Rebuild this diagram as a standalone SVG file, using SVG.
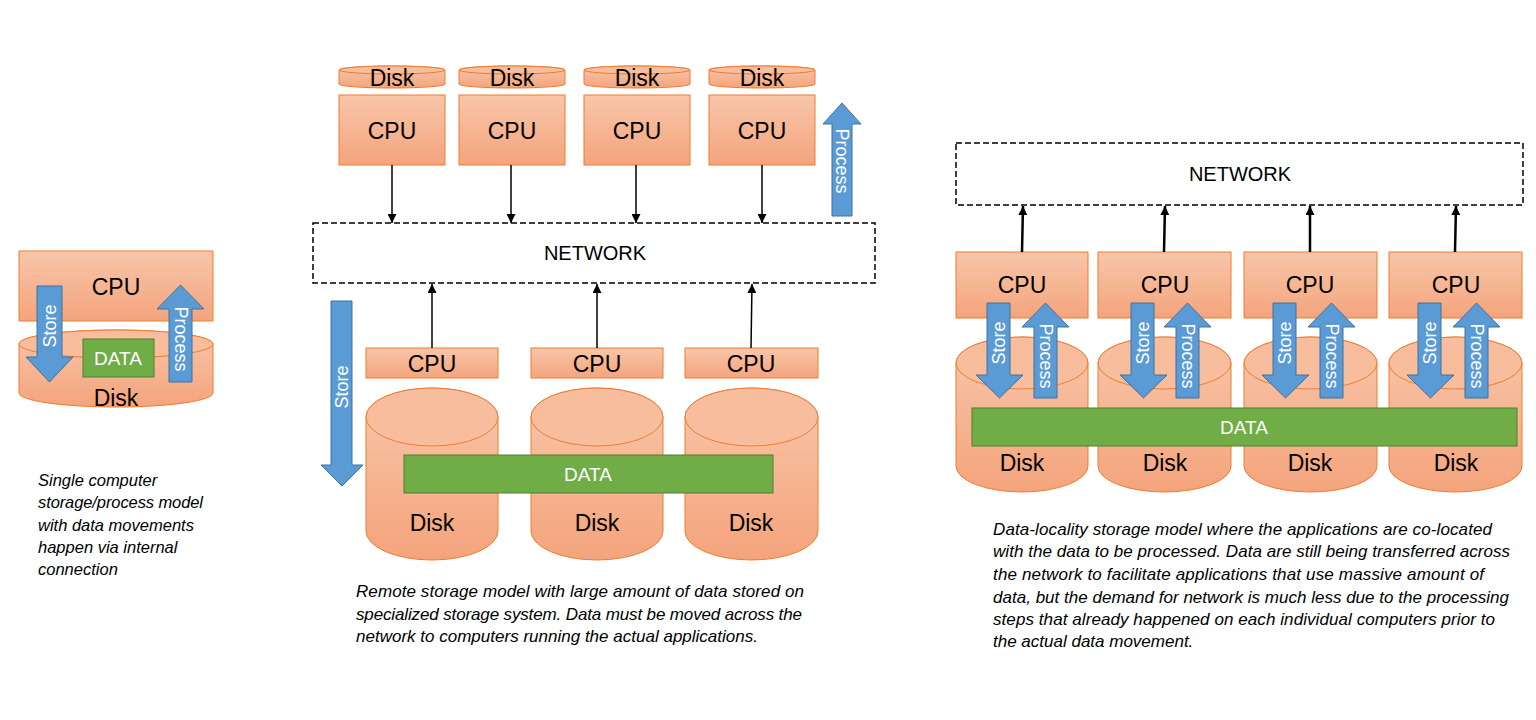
<svg xmlns="http://www.w3.org/2000/svg" width="1536" height="720" viewBox="0 0 1536 720">
<defs>
  <linearGradient id="og" x1="0" y1="0" x2="0" y2="1">
    <stop offset="0" stop-color="#F8C6AA"/>
    <stop offset="1" stop-color="#F4A47C"/>
  </linearGradient>
  <marker id="ah" markerUnits="userSpaceOnUse" markerWidth="9" markerHeight="9" refX="9" refY="4.5" orient="auto">
    <path d="M0,0 L9,4.5 L0,9 Z" fill="#000"/>
  </marker>
</defs>
<style>
  .box{fill:url(#og);stroke:#ED7D31;stroke-width:1}
  .cyl{fill:url(#og);stroke:#ED7D31;stroke-width:1}
  .cyltop{fill:#F7BD9D;stroke:#ED7D31;stroke-width:1}
  .blue{fill:#5B9BD5;stroke:#41719C;stroke-width:1}
  .green{fill:#70AD47;stroke:#507E32;stroke-width:1}
  .net{fill:#fff;stroke:#000;stroke-width:1.5;stroke-dasharray:6 3}
  .t{font-family:"Liberation Sans",Arial,sans-serif;fill:#000;text-anchor:middle;dominant-baseline:central}
  .big{font-size:23px}
  .net-t{font-size:20px}
  .data{font-size:19px;fill:#fff}
  .lab{font-size:18px;fill:#fff}
  .cap{font-family:"Liberation Sans",Arial,sans-serif;font-style:italic;font-size:17px;fill:#000}
  .capl{font-size:16.5px}
  .c1{stroke:#000;stroke-width:1.5;fill:none;marker-end:url(#ah)}
  .c2{stroke:#000;stroke-width:2.5;fill:none;marker-end:url(#ah)}
</style>

<!-- LEFT: single computer -->
<g id="left-disk">
  <path class="cyl" d="M19,344 L19,393 A97,14 0 0 0 213,393 L213,344 A97,14 0 0 0 19,344 Z"/>
  <ellipse class="cyltop" cx="116" cy="344" rx="97" ry="14"/>
  <text class="t big" x="116" y="398">Disk</text>
</g>
<g id="left-cpu">
  <rect class="box" x="19" y="251" width="194" height="70"/>
  <text class="t big" x="116" y="287">CPU</text>
</g>
<g id="left-data">
  <rect class="green" x="83" y="339" width="71" height="38"/>
  <text class="t data" x="118" y="358">DATA</text>
</g>
<g id="left-store">
  <polygon class="blue" points="37,286 62,286 62,357 73,357 49.5,382 26,357 37,357"/>
  <text class="t lab" transform="translate(50,326) rotate(-90)">Store</text>
</g>
<g id="left-process">
  <polygon class="blue" points="169,382 192,382 192,309 204,309 180.5,285 157,309 169,309"/>
  <text class="t lab" transform="translate(181,339) rotate(90)">Process</text>
</g>
<text class="cap capl" x="38" y="486">Single computer</text>
<text class="cap capl" x="38" y="508" textLength="165">storage/process model</text>
<text class="cap capl" x="38" y="531">with data movements</text>
<text class="cap capl" x="38" y="553">happen via internal</text>
<text class="cap capl" x="38" y="575">connection</text>

<!-- MIDDLE: remote storage -->
<g id="m-disk1"><path class="cyl" d="M339,70 L339,84 A53,4 0 0 0 445,84 L445,70 A53,4 0 0 0 339,70 Z"/><ellipse class="cyltop" cx="392" cy="70" rx="53" ry="4"/><text class="t big" x="392" y="78">Disk</text></g>
<g id="m-disk2"><path class="cyl" d="M459,70 L459,84 A53,4 0 0 0 565,84 L565,70 A53,4 0 0 0 459,70 Z"/><ellipse class="cyltop" cx="512" cy="70" rx="53" ry="4"/><text class="t big" x="512" y="78">Disk</text></g>
<g id="m-disk3"><path class="cyl" d="M584,70 L584,84 A53,4 0 0 0 690,84 L690,70 A53,4 0 0 0 584,70 Z"/><ellipse class="cyltop" cx="637" cy="70" rx="53" ry="4"/><text class="t big" x="637" y="78">Disk</text></g>
<g id="m-disk4"><path class="cyl" d="M709,70 L709,84 A53,4 0 0 0 815,84 L815,70 A53,4 0 0 0 709,70 Z"/><ellipse class="cyltop" cx="762" cy="70" rx="53" ry="4"/><text class="t big" x="762" y="78">Disk</text></g>

<g id="m-cpu1"><rect class="box" x="339" y="95" width="106" height="70"/><text class="t big" x="392" y="131">CPU</text></g>
<g id="m-cpu2"><rect class="box" x="459" y="95" width="106" height="70"/><text class="t big" x="512" y="131">CPU</text></g>
<g id="m-cpu3"><rect class="box" x="584" y="95" width="106" height="70"/><text class="t big" x="637" y="131">CPU</text></g>
<g id="m-cpu4"><rect class="box" x="709" y="95" width="106" height="70"/><text class="t big" x="762" y="131">CPU</text></g>

<g id="m-process">
  <polygon class="blue" points="832,216 852,216 852,124 861,124 842,103 823,124 832,124"/>
  <text class="t lab" transform="translate(842,161) rotate(90)">Process</text>
</g>

<g id="m-network">
  <rect class="net" x="313" y="223" width="562" height="60"/>
  <text class="t net-t" x="595" y="253">NETWORK</text>
</g>

<g id="m-store">
  <polygon class="blue" points="331,301 352,301 352,465 363,465 342,486 321,465 331,465"/>
  <text class="t lab" transform="translate(342,387) rotate(-90)">Store</text>
</g>

<g id="m-cpu5"><rect class="box" x="366" y="348" width="132" height="30"/><text class="t big" x="432" y="364">CPU</text></g>
<g id="m-cpu6"><rect class="box" x="531" y="348" width="132" height="30"/><text class="t big" x="597" y="364">CPU</text></g>
<g id="m-cpu7"><rect class="box" x="685" y="348" width="133" height="30"/><text class="t big" x="751" y="364">CPU</text></g>

<g id="m-bigdisk1"><path class="cyl" d="M366,417 L366,531 A66,29 0 0 0 498,531 L498,417 A66,29 0 0 0 366,417 Z"/><ellipse class="cyltop" cx="432" cy="417" rx="66" ry="29"/><text class="t big" x="432" y="523">Disk</text></g>
<g id="m-bigdisk2"><path class="cyl" d="M531,417 L531,531 A66,29 0 0 0 663,531 L663,417 A66,29 0 0 0 531,417 Z"/><ellipse class="cyltop" cx="597" cy="417" rx="66" ry="29"/><text class="t big" x="597" y="523">Disk</text></g>
<g id="m-bigdisk3"><path class="cyl" d="M685,417 L685,531 A66.5,29 0 0 0 818,531 L818,417 A66.5,29 0 0 0 685,417 Z"/><ellipse class="cyltop" cx="751.5" cy="417" rx="66.5" ry="29"/><text class="t big" x="751" y="523">Disk</text></g>

<g id="m-data">
  <rect class="green" x="404" y="455" width="369" height="38"/>
  <text class="t data" x="588" y="474">DATA</text>
</g>

<text class="cap" x="356" y="597" textLength="448">Remote storage model with large amount of data stored on</text>
<text class="cap" x="356" y="620" textLength="446">specialized storage system. Data must be moved across the</text>
<text class="cap" x="356" y="642" textLength="402">network to computers running the actual applications.</text>

<!-- RIGHT: data locality -->
<g id="r-network">
  <rect class="net" x="956" y="143" width="567" height="62"/>
  <text class="t net-t" x="1240" y="174">NETWORK</text>
</g>

<g id="r-disk1"><path class="cyl" d="M956,363 L956,466 A66,26 0 0 0 1088,466 L1088,363 A66,26 0 0 0 956,363 Z"/><ellipse class="cyltop" cx="1022" cy="363" rx="66" ry="26"/><text class="t big" x="1022" y="463">Disk</text></g>
<g id="r-disk2"><path class="cyl" d="M1098,363 L1098,466 A66.5,26 0 0 0 1231,466 L1231,363 A66.5,26 0 0 0 1098,363 Z"/><ellipse class="cyltop" cx="1164.5" cy="363" rx="66.5" ry="26"/><text class="t big" x="1165" y="463">Disk</text></g>
<g id="r-disk3"><path class="cyl" d="M1244,363 L1244,466 A66.5,26 0 0 0 1377,466 L1377,363 A66.5,26 0 0 0 1244,363 Z"/><ellipse class="cyltop" cx="1310.5" cy="363" rx="66.5" ry="26"/><text class="t big" x="1310" y="463">Disk</text></g>
<g id="r-disk4"><path class="cyl" d="M1389,363 L1389,466 A66.5,26 0 0 0 1522,466 L1522,363 A66.5,26 0 0 0 1389,363 Z"/><ellipse class="cyltop" cx="1455.5" cy="363" rx="66.5" ry="26"/><text class="t big" x="1456" y="463">Disk</text></g>

<g id="r-cpu1"><rect class="box" x="956" y="252" width="132" height="66"/><text class="t big" x="1022" y="285">CPU</text></g>
<g id="r-cpu2"><rect class="box" x="1098" y="252" width="133" height="66"/><text class="t big" x="1165" y="285">CPU</text></g>
<g id="r-cpu3"><rect class="box" x="1244" y="252" width="133" height="66"/><text class="t big" x="1310" y="285">CPU</text></g>
<g id="r-cpu4"><rect class="box" x="1389" y="252" width="133" height="66"/><text class="t big" x="1456" y="285">CPU</text></g>

<g id="r-arrows1">
  <polygon class="blue" points="987,303 1010,303 1010,375 1023,375 999.5,398 976,375 987,375"/>
  <text class="t lab" transform="translate(999,343) rotate(-90)">Store</text>
  <polygon class="blue" points="1034,398 1057,398 1057,327 1069,327 1045.5,303 1022,327 1034,327"/>
  <text class="t lab" transform="translate(1046,356) rotate(90)">Process</text>
</g>
<g id="r-arrows2">
  <polygon class="blue" points="1131,303 1154,303 1154,375 1167,375 1143.5,398 1120,375 1131,375"/>
  <text class="t lab" transform="translate(1143,343) rotate(-90)">Store</text>
  <polygon class="blue" points="1176,398 1199,398 1199,327 1211,327 1187.5,303 1164,327 1176,327"/>
  <text class="t lab" transform="translate(1188,356) rotate(90)">Process</text>
</g>
<g id="r-arrows3">
  <polygon class="blue" points="1273,303 1296,303 1296,375 1309,375 1285.5,398 1262,375 1273,375"/>
  <text class="t lab" transform="translate(1285,343) rotate(-90)">Store</text>
  <polygon class="blue" points="1320,398 1343,398 1343,327 1355,327 1331.5,303 1308,327 1320,327"/>
  <text class="t lab" transform="translate(1332,356) rotate(90)">Process</text>
</g>
<g id="r-arrows4">
  <polygon class="blue" points="1418,303 1441,303 1441,375 1454,375 1430.5,398 1407,375 1418,375"/>
  <text class="t lab" transform="translate(1430,343) rotate(-90)">Store</text>
  <polygon class="blue" points="1465,398 1488,398 1488,327 1500,327 1476.5,303 1453,327 1465,327"/>
  <text class="t lab" transform="translate(1477,356) rotate(90)">Process</text>
</g>

<g id="r-data">
  <rect class="green" x="972" y="408" width="545" height="38"/>
  <text class="t data" x="1244" y="427">DATA</text>
</g>

<text class="cap" x="993" y="535" textLength="499">Data-locality storage model where the applications are co-located</text>
<text class="cap" x="993" y="557" textLength="517">with the data to be processed. Data are still being transferred across</text>
<text class="cap" x="993" y="580" textLength="491">the network to facilitate applications that use massive amount of</text>
<text class="cap" x="993" y="603" textLength="516">data, but the demand for network is much less due to the processing</text>
<text class="cap" x="993" y="625" textLength="502">steps that already happened on each individual computers prior to</text>
<text class="cap" x="993" y="647">the actual data movement.</text>

<!-- CONNECTORS -->
<g id="connectors">
  <line class="c1" x1="392" y1="165" x2="392" y2="223"/>
  <line class="c1" x1="511" y1="165" x2="511" y2="223"/>
  <line class="c1" x1="636" y1="165" x2="636" y2="223"/>
  <line class="c1" x1="762" y1="165" x2="762" y2="223"/>
  <line class="c1" x1="432" y1="348" x2="432" y2="284"/>
  <line class="c1" x1="597" y1="348" x2="597" y2="284"/>
  <line class="c1" x1="751" y1="348" x2="752" y2="284"/>
  <line class="c2" x1="1022" y1="252" x2="1023" y2="206"/>
  <line class="c2" x1="1164" y1="252" x2="1165" y2="206"/>
  <line class="c2" x1="1310" y1="252" x2="1310" y2="206"/>
  <line class="c2" x1="1455" y1="252" x2="1456" y2="206"/>
</g>
</svg>
